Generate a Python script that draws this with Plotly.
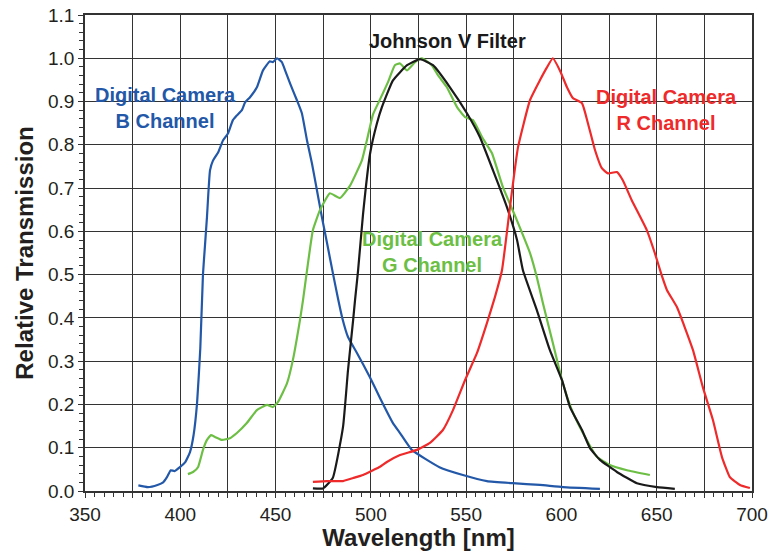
import plotly.graph_objects as go

# ---- data ----
b_wl = [378, 383, 388, 391, 393, 395, 397, 399.8, 402.5, 405.1, 407, 408.8, 410.5, 411.9, 413, 414, 415.6, 417.2,
        419.9, 422.4, 425, 427.6, 429.7, 432.3, 434, 436.6, 440.2, 443.4, 447, 448.6, 450.7, 453.3, 455, 457.6,
        461.2, 463.8, 466.5, 469.1, 471.7, 474.3, 477, 480.1, 482.7, 485, 488, 492.7, 499.5, 504.8, 511.6,
        515.3, 521.5, 536, 548.3, 560.9, 574.5, 588.7, 600.8, 620.2]
b_val = [0.013, 0.009, 0.014, 0.02, 0.032, 0.048, 0.046, 0.055, 0.066, 0.09, 0.13, 0.203, 0.33, 0.5, 0.57, 0.633, 0.741, 0.764,
         0.783, 0.81, 0.826, 0.857, 0.868, 0.88, 0.898, 0.91, 0.933, 0.972, 0.993, 0.991, 1.0, 0.991, 0.972, 0.942,
         0.903, 0.873, 0.81, 0.757, 0.695, 0.633, 0.573, 0.503, 0.446, 0.40, 0.356, 0.319, 0.263, 0.215, 0.157,
         0.134, 0.095, 0.055, 0.037, 0.023, 0.018, 0.014, 0.009, 0.005]

g_wl = [404, 406.7, 409.3, 411.9, 414, 416.1, 418.2, 421.9, 426, 429.7, 434.9, 440.2, 445.5, 448.6, 451.3, 456,
        459.1, 462.8, 464.4, 466.5, 469.6, 473.3, 478.5, 483.8, 489, 495.3, 497.9, 501.1, 504.8, 509, 512.6, 515.3,
        519, 523.2, 526.8, 532, 535.2, 539.9, 545.2, 549.4, 553.6, 558.3, 563.5, 569.3, 576.6, 583.5, 587.1,
        590.3, 595.5, 600.3, 605.5, 611.3, 618.6, 625.4, 634.4, 646.4]
g_val = [0.039, 0.044, 0.055, 0.095, 0.118, 0.129, 0.125, 0.118, 0.122, 0.134, 0.157, 0.187, 0.199, 0.194, 0.206, 0.249,
         0.303, 0.395, 0.441, 0.51, 0.603, 0.649, 0.688, 0.677, 0.705, 0.764, 0.81, 0.87, 0.905, 0.945, 0.984, 0.988,
         0.972, 0.991, 1.0, 0.984, 0.961, 0.933, 0.887, 0.864, 0.857, 0.818, 0.781, 0.702, 0.626, 0.55, 0.494,
         0.434, 0.342, 0.256, 0.187, 0.134, 0.079, 0.06, 0.048, 0.037]

v_wl = [469.6, 474.9, 480, 485.4, 488, 490.7, 491.7, 493.3, 495.9, 499.6, 503.2, 505.8, 511.6, 519, 525.8, 532.6,
        541.5, 550.4, 557.2, 564.1, 571.4, 576.7, 579.8, 587.1, 593.9, 600.3, 604.5, 610.8, 615, 620.2, 629.1,
        639.6, 650.1, 659.5]
v_val = [0.006, 0.006, 0.03, 0.148, 0.279, 0.395, 0.441, 0.51, 0.64, 0.78, 0.85, 0.887, 0.949, 0.984, 0.998, 0.984,
         0.933, 0.873, 0.818, 0.741, 0.656, 0.58, 0.51, 0.418, 0.326, 0.256, 0.194, 0.141, 0.099, 0.072, 0.044,
         0.018, 0.009, 0.005]

r_wl = [469.6, 477, 485.4, 490.7, 495.9, 501.1, 504.8, 508.4, 515.3, 524.2, 531, 537.8, 543.1, 549.4, 555.7, 560.9,
        565.1, 568.8, 573, 577.2, 583.5, 588.7, 592.4, 595.5, 599.2, 602.9, 606, 610.8, 613.9, 617.6, 621.2, 624.4,
        629.1, 632.2, 636.9, 644.8, 649, 652.5, 655.4, 660.6, 669, 674.2, 679.5, 684.2, 688.4, 693.7, 698.9]
r_val = [0.021, 0.023, 0.023, 0.03, 0.037, 0.048, 0.056, 0.067, 0.083, 0.095, 0.111, 0.141, 0.187, 0.256, 0.319, 0.388,
         0.448, 0.51, 0.656, 0.794, 0.903, 0.949, 0.979, 1.0, 0.972, 0.933, 0.908, 0.896, 0.85, 0.788, 0.746, 0.734,
         0.737, 0.718, 0.672, 0.603, 0.55, 0.50, 0.464, 0.425, 0.326, 0.24, 0.164, 0.079, 0.032, 0.014, 0.007]

x_ticks = [350, 375, 400, 425, 450, 475, 500, 525, 550, 575, 600, 625, 650, 675, 700]
x_labels = ["350", "", "400", "", "450", "", "500", "", "550", "", "600", "", "650", "", "700"]
y_ticks = [0.0, 0.1, 0.2, 0.3, 0.4, 0.5, 0.6, 0.7, 0.8, 0.9, 1.0, 1.1]
y_labels = ["0.0", "0.1", "0.2", "0.3", "0.4", "0.5", "0.6", "0.7", "0.8", "0.9", "1.0", "1.1"]

BLUE = "#2358a8"
GREEN = "#6cbf44"
RED = "#ee2a2a"
BLACK = "#1a1a1a"

fig = go.Figure()
for wl, val, col in [(b_wl, b_val, BLUE), (g_wl, g_val, GREEN), (v_wl, v_val, BLACK), (r_wl, r_val, RED)]:
    fig.add_trace(go.Scatter(x=wl, y=val, mode="lines", line=dict(color=col, width=2.2, shape="spline", smoothing=0.4),
                             showlegend=False, hoverinfo="skip"))

font_fam = "Liberation Sans, Arial, sans-serif"
ann_font = dict(family=font_fam, size=20)
fig.add_annotation(x=392, y=0.885, text="<b>Digital Camera<br>B Channel</b>", showarrow=False,
                   font=dict(ann_font, color=BLUE), align="center")
fig.add_annotation(x=540, y=1.04, text="<b>Johnson V Filter</b>", showarrow=False,
                   font=dict(ann_font, color=BLACK), align="center")
fig.add_annotation(x=532.6, y=0.552, text="<b>Digital Camera<br>G Channel</b>", showarrow=False,
                   font=dict(ann_font, color=GREEN), align="center")
fig.add_annotation(x=655, y=0.88, text="<b>Digital Camera<br>R Channel</b>", showarrow=False,
                   font=dict(ann_font, color=RED), align="center")

fig.update_layout(
    width=769, height=551,
    margin=dict(l=85, r=17, t=15, b=60),
    plot_bgcolor="white", paper_bgcolor="white",
    font=dict(family=font_fam, size=19, color="#231f20"),
)
fig.update_xaxes(
    range=[350, 700], tickvals=x_ticks, ticktext=x_labels, automargin=False, ticklabeloverflow="allow",
    showgrid=True, gridcolor="#333333", gridwidth=1,
    showline=True, linecolor="#333333", linewidth=1.5, mirror=True,
    ticks="outside", ticklen=5, tickcolor="#333333",
    minor=dict(dtick=5, ticks="outside", ticklen=4, tickcolor="#333333", showgrid=False),
    zeroline=False,
    title=dict(text="<b>Wavelength [nm]</b>", font=dict(size=24, family=font_fam), standoff=6),
)
fig.update_yaxes(
    range=[0, 1.1], tickvals=y_ticks, ticktext=y_labels, automargin=False, ticklabeloverflow="allow",
    showgrid=True, gridcolor="#333333", gridwidth=1,
    showline=True, linecolor="#333333", linewidth=1.5, mirror=True,
    ticks="outside", ticklen=5, tickcolor="#333333",
    minor=dict(dtick=0.02, ticks="outside", ticklen=4, tickcolor="#333333", showgrid=False),
    zeroline=False,
    title=dict(text="<b>Relative Transmission</b>", font=dict(size=24, family=font_fam), standoff=8),
)

# remove the default page margin so the figure sits at the window's top-left corner
fig.write_html("out.html", config={"displayModeBar": False},
               post_script="document.body.style.margin='0';document.body.style.overflow='hidden';")
